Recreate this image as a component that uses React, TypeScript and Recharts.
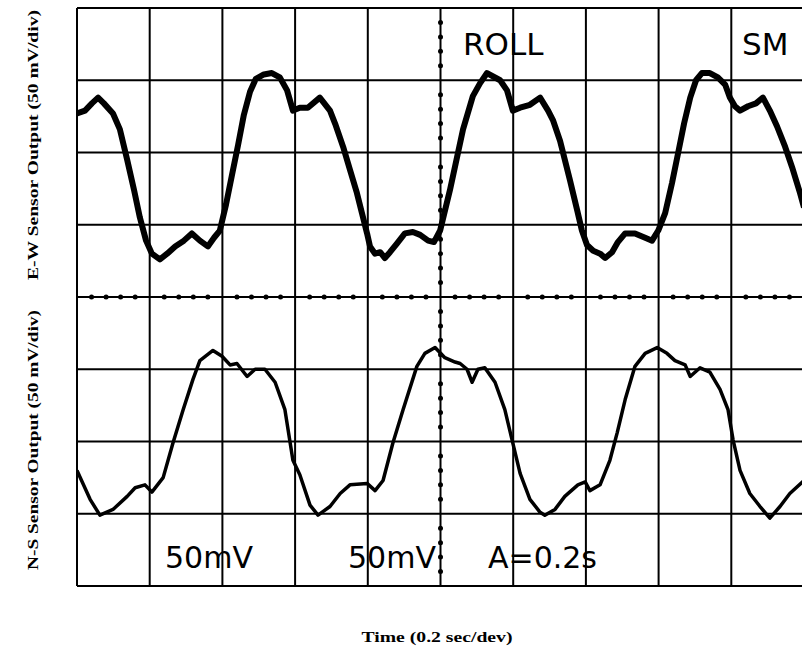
import React from 'react';
import { LineChart, Line, XAxis, YAxis, ReferenceLine, ReferenceDot } from 'recharts';

// time in seconds (0.2 s/div), output in mV (50 mV/div), screen bottom = 0 mV
const timeGrid = [0, 0.2, 0.4, 0.6, 0.8, 1.0, 1.2, 1.4, 1.6, 1.8, 2.0];
const voltGrid = [0, 50, 100, 150, 200, 250, 300, 350, 400];

const ewTime = [
  0, 0.022, 0.041, 0.058, 0.074, 0.099, 0.118, 0.138, 0.157, 0.173, 0.19, 0.206, 0.228, 0.248, 0.27, 0.294,
  0.316, 0.338, 0.36, 0.377, 0.393, 0.41, 0.426, 0.443, 0.459, 0.476, 0.492, 0.514, 0.536, 0.558, 0.578,
  0.594, 0.613, 0.635, 0.668, 0.696, 0.71, 0.732, 0.751, 0.77, 0.784, 0.798, 0.806, 0.82, 0.834, 0.847,
  0.861, 0.88, 0.902, 0.924, 0.944, 0.966, 0.982, 0.999, 1.026, 1.062, 1.089, 1.109, 1.128, 1.164, 1.183,
  1.199, 1.219, 1.246, 1.274, 1.296, 1.31, 1.329, 1.356, 1.376, 1.389, 1.403, 1.42, 1.439, 1.453, 1.472,
  1.488, 1.508, 1.535, 1.563, 1.582, 1.599, 1.618, 1.637, 1.654, 1.67, 1.687, 1.703, 1.719, 1.741, 1.763,
  1.783, 1.796, 1.81, 1.824, 1.846, 1.868, 1.887, 1.906, 1.926, 1.948, 1.967, 1.989, 2.0,
];
const ewVolt = [
  327, 329, 334, 338, 334, 327, 316, 295, 274, 255, 239, 230, 226, 230, 235, 239,
  244, 239, 235, 241, 246, 264, 284, 305, 326, 342, 351, 354, 355, 352, 343,
  329, 331, 331, 338, 329, 320, 304, 288, 272, 258, 244, 235, 230, 231, 227,
  231, 237, 244, 245, 243, 239, 238, 246, 274, 316, 339, 348, 355, 350, 343,
  329, 331, 333, 338, 329, 322, 308, 281, 260, 246, 236, 232, 230, 227, 231,
  238, 244, 244, 241, 239, 246, 258, 279, 300, 320, 338, 350, 355, 355, 352,
  347, 338, 332, 329, 332, 334, 338, 329, 318, 304, 290, 272, 262,
];

const nsTime = [
  0, 0.036, 0.063, 0.099, 0.138, 0.16, 0.187, 0.206, 0.237, 0.264, 0.292, 0.319, 0.338, 0.374, 0.399,
  0.421, 0.44, 0.468, 0.49, 0.517, 0.545, 0.572, 0.594, 0.613, 0.641, 0.663, 0.696, 0.724, 0.751, 0.798,
  0.82, 0.842, 0.869, 0.897, 0.935, 0.957, 0.985, 1.012, 1.04, 1.054, 1.073, 1.087, 1.103, 1.122, 1.15,
  1.177, 1.197, 1.219, 1.246, 1.274, 1.287, 1.315, 1.342, 1.378, 1.398, 1.411, 1.439, 1.466, 1.486, 1.508,
  1.535, 1.563, 1.596, 1.623, 1.645, 1.673, 1.687, 1.714, 1.741, 1.769, 1.791, 1.805, 1.824, 1.851, 1.879,
  1.906, 1.934, 1.961, 2.0,
];
const nsVolt = [
  80, 60, 49, 53, 62, 68, 70, 65, 75, 99, 122, 143, 156, 163, 159,
  153, 154, 145, 150, 150, 141, 122, 87, 77, 56, 49, 55, 64, 70, 71,
  66, 73, 99, 122, 152, 161, 165, 158, 155, 154, 150, 141, 150, 151, 141,
  122, 101, 78, 60, 51, 49, 53, 62, 70, 72, 66, 70, 87, 106, 129,
  152, 161, 165, 161, 156, 153, 145, 151, 148, 136, 122, 101, 80, 64, 55,
  47, 55, 64, 73,
];

// minor graticule marks on the centre lines (1/5 division)
const minorTimes = [
  0.04, 0.08, 0.12, 0.16, 0.24, 0.28, 0.32, 0.36, 0.44, 0.48, 0.52, 0.56, 0.64, 0.68, 0.72, 0.76, 0.84, 0.88, 0.92, 0.96,
  1.04, 1.08, 1.12, 1.16, 1.24, 1.28, 1.32, 1.36, 1.44, 1.48, 1.52, 1.56, 1.64, 1.68, 1.72, 1.76, 1.84, 1.88, 1.92, 1.96,
];
const minorVolts = [
  10, 20, 30, 40, 60, 70, 80, 90, 110, 120, 130, 140, 160, 170, 180, 190,
  210, 220, 230, 240, 260, 270, 280, 290, 310, 320, 330, 340, 360, 370, 380, 390,
];

const ewData = ewTime.map((t, i) => ({ t, v: ewVolt[i] }));
const nsData = nsTime.map((t, i) => ({ t, v: nsVolt[i] }));

const scopeFont = '"DejaVu Sans", sans-serif';
const labelFont = '"Liberation Serif", "Times New Roman", serif';

export default function App() {
  return (
    <div style={{ position: 'absolute', left: 0, top: 0, width: 802, height: 649, overflow: 'hidden', background: '#fff' }}>
      <LineChart width={806} height={649} margin={{ top: 8, left: 77, right: 2, bottom: 63 }}>
        <XAxis type="number" dataKey="t" domain={[0, 2]} hide allowDataOverflow />
        <YAxis type="number" dataKey="v" domain={[0, 400]} hide allowDataOverflow />
        {timeGrid.map((t) => (
          <ReferenceLine key={'vx' + t} x={t} stroke="#000" strokeWidth={2} ifOverflow="visible" />
        ))}
        {voltGrid.map((v) => (
          <ReferenceLine key={'hy' + v} y={v} stroke="#000" strokeWidth={2} ifOverflow="visible" />
        ))}
        {minorTimes.map((t) => (
          <ReferenceDot key={'mt' + t} x={t} y={200} r={2.5} fill="#000" stroke="none" />
        ))}
        {minorVolts.map((v) => (
          <ReferenceDot key={'mv' + v} x={1.0} y={v} r={2.5} fill="#000" stroke="none" />
        ))}
        <Line data={ewData} dataKey="v" type="linear" stroke="#000" strokeWidth={6} dot={false} isAnimationActive={false} strokeLinejoin="round" />
        <Line data={nsData} dataKey="v" type="linear" stroke="#000" strokeWidth={3.5} dot={false} isAnimationActive={false} strokeLinejoin="round" />
        <text x={463} y={55} fontFamily={scopeFont} fontSize={31} fill="#000">ROLL</text>
        <text x={742} y={55} fontFamily={scopeFont} fontSize={31} fill="#000">SM</text>
        <text x={165} y={568} fontFamily={scopeFont} fontSize={30} fill="#000">50mV</text>
        <text x={348} y={568} fontFamily={scopeFont} fontSize={30} fill="#000">50mV</text>
        <text x={488} y={568} fontFamily={scopeFont} fontSize={30} fill="#000">A=0.2s</text>
        <text x={38} y={145} transform="rotate(-90 38 145)" textAnchor="middle" fontFamily={labelFont} fontWeight="bold" fontSize={14} textLength={270} lengthAdjust="spacingAndGlyphs" fill="#000">E-W Sensor Output (50 mV/div)</text>
        <text x={38} y={440} transform="rotate(-90 38 440)" textAnchor="middle" fontFamily={labelFont} fontWeight="bold" fontSize={14} textLength={260} lengthAdjust="spacingAndGlyphs" fill="#000">N-S Sensor Output (50 mV/div)</text>
        <text x={437} y={642} textAnchor="middle" fontFamily={labelFont} fontWeight="bold" fontSize={15} textLength={151} lengthAdjust="spacingAndGlyphs" fill="#000">Time (0.2 sec/dev)</text>
      </LineChart>
    </div>
  );
}
